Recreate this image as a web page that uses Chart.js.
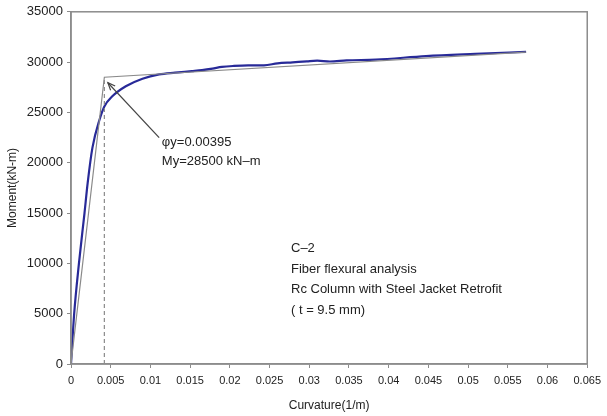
<!DOCTYPE html>
<html>
<head>
<meta charset="utf-8">
<script src="https://cdn.jsdelivr.net/npm/chart.js@4"></script>
<style>
  html, body { margin: 0; padding: 0; background: #fff; }
  #wrap { width: 607px; height: 416px; }
</style>
</head>
<body>
<div id="wrap"><canvas id="chart" width="607" height="416"></canvas></div>
<script>
// Fiber flexural analysis curve (moment vs curvature)
const curvature = [0, 0.0004, 0.001, 0.0017, 0.0021, 0.0027, 0.0036, 0.0042, 0.0052, 0.0069, 0.009, 0.0111, 0.0131, 0.0152, 0.0165, 0.0178, 0.019, 0.0205, 0.0223, 0.0243, 0.026, 0.0279, 0.0297, 0.031, 0.0326, 0.0347, 0.0384, 0.0447, 0.0509, 0.0573];
const moment = [0, 5000, 10000, 15000, 18000, 21500, 24300, 25600, 26600, 27600, 28350, 28780, 28950, 29100, 29200, 29350, 29520, 29620, 29680, 29680, 29880, 29980, 30080, 30140, 30060, 30170, 30250, 30600, 30820, 31020];

// idealized bilinear line
const bilinearCurv = [0, 0.0042, 0.0573];
const bilinearMoment = [0, 28500, 31000];

// yield marker (dashed) and arrow
const yieldCurv = [0.0042, 0.0042];
const yieldMoment = [0, 28500];
const arrowCurv = [0.0111, 0.00464];
const arrowMoment = [22500, 27950];

const xTickLabels = ['0', '0.005', '0.01', '0.015', '0.02', '0.025', '0.03', '0.035', '0.04', '0.045', '0.05', '0.055', '0.06', '0.065'];
const yTickLabels = ['0', '5000', '10000', '15000', '20000', '25000', '30000', '35000'];

const yieldText = ['\u03c6y=0.00395', 'My=28500 kN\u2013m'];
const yieldTextPos = [0.01144, 22000];
const noteText = ['C\u20132', 'Fiber flexural analysis', 'Rc Column with Steel Jacket Retrofit', '( t = 9.5 mm)'];
const notePos = [0.0277, 11450];

const FONT = "'Liberation Sans', Arial, sans-serif";

function pts(xs, ys) {
    return xs.map((x, i) => ({ x: x, y: ys[i] }));
}

const extras = {
    id: 'extras',
    afterDatasetsDraw(chart) {
        const ctx = chart.ctx;
        const xs = chart.scales.x, ys = chart.scales.y;
        const a = chart.chartArea;

        // frame
        ctx.save();
        ctx.strokeStyle = '#8c8c8c';
        ctx.lineWidth = 1.5;
        ctx.strokeRect(a.left, a.top, a.right - a.left, a.bottom - a.top);

        // arrow head
        const tx = xs.getPixelForValue(arrowCurv[1]), ty = ys.getPixelForValue(arrowMoment[1]);
        const fx = xs.getPixelForValue(arrowCurv[0]), fy = ys.getPixelForValue(arrowMoment[0]);
        const ang = Math.atan2(ty - fy, tx - fx);
        ctx.strokeStyle = '#444';
        ctx.lineWidth = 1.2;
        ctx.beginPath();
        ctx.moveTo(tx - 8 * Math.cos(ang - 0.4), ty - 8 * Math.sin(ang - 0.4));
        ctx.lineTo(tx, ty);
        ctx.lineTo(tx - 8 * Math.cos(ang + 0.4), ty - 8 * Math.sin(ang + 0.4));
        ctx.stroke();

        // texts
        ctx.fillStyle = '#222';
        ctx.font = '13px ' + FONT;
        ctx.textBaseline = 'middle';
        ctx.textAlign = 'left';
        let x0 = xs.getPixelForValue(yieldTextPos[0]);
        let y0 = ys.getPixelForValue(yieldTextPos[1]);
        yieldText.forEach((t, i) => ctx.fillText(t, x0, y0 + i * 18.5));

        x0 = xs.getPixelForValue(notePos[0]);
        y0 = ys.getPixelForValue(notePos[1]);
        noteText.forEach((t, i) => ctx.fillText(t, x0, y0 + i * 20.5));
        ctx.restore();
    }
};

const ctx = document.getElementById('chart').getContext('2d');
new Chart(ctx, {
    type: 'scatter',
    data: {
        datasets: [
            {
                data: pts(bilinearCurv, bilinearMoment),
                showLine: true,
                borderColor: '#8a8a8a',
                borderWidth: 1.2,
                pointRadius: 0
            },
            {
                data: pts(yieldCurv, yieldMoment),
                showLine: true,
                borderColor: '#8a8a8a',
                borderWidth: 1.2,
                borderDash: [4, 3],
                pointRadius: 0
            },
            {
                data: pts(arrowCurv, arrowMoment),
                showLine: true,
                borderColor: '#444',
                borderWidth: 1.2,
                pointRadius: 0
            },
            {
                data: pts(curvature, moment),
                showLine: true,
                borderColor: '#282a98',
                borderWidth: 2.2,
                cubicInterpolationMode: 'monotone',
                pointRadius: 0
            }
        ]
    },
    options: {
        responsive: false,
        animation: false,
        layout: { padding: { top: 10, right: 14, left: 0, bottom: 0 } },
        plugins: {
            legend: { display: false },
            tooltip: { enabled: false }
        },
        scales: {
            x: {
                type: 'linear',
                min: 0,
                max: 0.065,
                afterFit: function(scale) { scale.height = 52; },
                afterBuildTicks: function(scale) {
                    scale.ticks = xTickLabels.map((t, i) => ({ value: i * 0.005 }));
                },
                ticks: {
                    color: '#222',
                    font: { family: FONT, size: 11 },
                    padding: 6,
                    maxRotation: 0,
                    autoSkip: false,
                    callback: function(value, index) { return xTickLabels[index]; }
                },
                grid: { drawOnChartArea: false, tickLength: 4, color: '#8c8c8c' },
                border: { color: '#8c8c8c', width: 1.5 },
                title: {
                    display: true,
                    text: 'Curvature(1/m)',
                    color: '#222',
                    font: { family: FONT, size: 12 },
                    padding: { top: 2, bottom: 3 }
                }
            },
            y: {
                min: 0,
                max: 35000,
                afterFit: function(scale) { scale.width = 71; },
                afterBuildTicks: function(scale) {
                    scale.ticks = yTickLabels.map((t, i) => ({ value: i * 5000 }));
                },
                ticks: {
                    color: '#222',
                    font: { family: FONT, size: 13 },
                    padding: 4,
                    callback: function(value, index) { return yTickLabels[index]; }
                },
                grid: { drawOnChartArea: false, tickLength: 4, color: '#8c8c8c' },
                border: { color: '#8c8c8c', width: 1.5 },
                title: {
                    display: true,
                    text: 'Moment(kN-m)',
                    color: '#222',
                    font: { family: FONT, size: 12 },
                    padding: { top: 5, bottom: 0 }
                }
            }
        }
    },
    plugins: [extras]
});
</script>
</body>
</html>
